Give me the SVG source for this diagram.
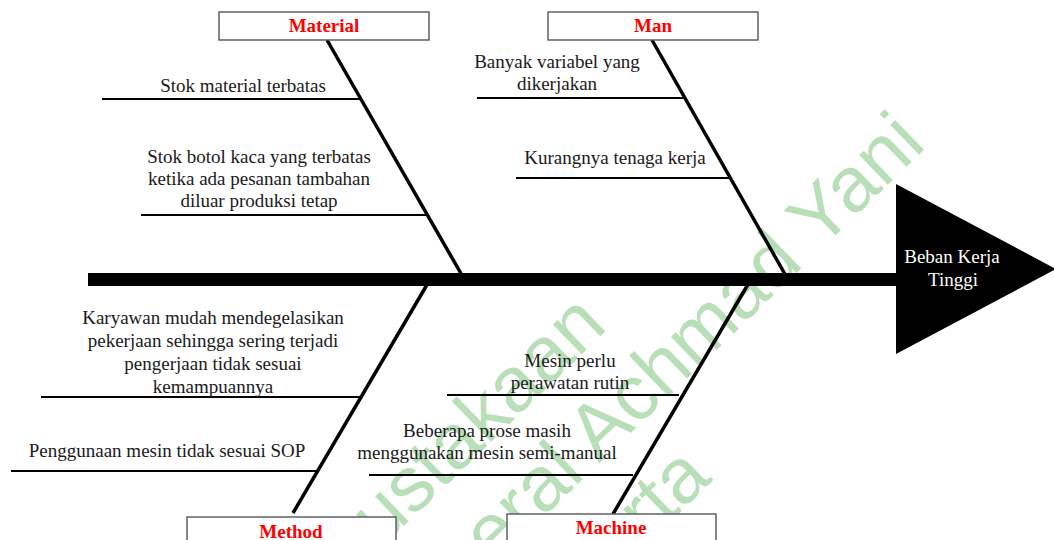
<svg xmlns="http://www.w3.org/2000/svg" width="1054" height="540" viewBox="0 0 1054 540">
<style>
.wm{font-family:"Liberation Sans",Arial,sans-serif;font-size:78px;fill:#b9dfb9}
.t{font-family:"Liberation Serif","Times New Roman",serif;font-size:19px;fill:#1a1a1a;text-anchor:middle}
.h{font-family:"Liberation Serif","Times New Roman",serif;font-size:19px;fill:#ffffff;text-anchor:middle}
.c{font-family:"Liberation Serif","Times New Roman",serif;font-size:19px;font-weight:bold;fill:#ff0000;text-anchor:middle}
.box{fill:#ffffff;stroke:#555555;stroke-width:1.4}
.bone{stroke:#000000;stroke-width:3.5;fill:none;stroke-linecap:butt}
.sub{stroke:#000000;stroke-width:2.2;fill:none}
</style>
<rect width="1054" height="540" fill="#ffffff"/>
<g id="watermark">
<text class="wm" transform="translate(350,578) rotate(-44)">pustakaan</text>
<text class="wm" transform="translate(493,566) rotate(-44)">eral Achmad Yani</text>
<text class="wm" transform="translate(648,543) rotate(-44)">rta</text>
</g>
<g id="connectors">
<rect x="88" y="273" width="812" height="13" fill="#000000"/>
<line class="bone" x1="327" y1="40" x2="463" y2="277"/>
<line class="bone" x1="652" y1="40" x2="786" y2="276"/>
<line class="bone" x1="428" y1="283" x2="293" y2="513"/>
<line class="bone" x1="750" y1="281" x2="613" y2="514"/>
</g>
<g id="effect">
<polygon points="896,184 1056,269 896,354" fill="#000000"/>
<text class="h" x="952" y="263">Beban Kerja</text>
<text class="h" x="953" y="286">Tinggi</text>
</g>
<g id="material">
<rect class="box" x="219" y="12" width="210" height="28"/>
<text class="c" x="324" y="32">Material</text>
</g>
<g id="man">
<rect class="box" x="548" y="12" width="210" height="28"/>
<text class="c" x="653" y="32">Man</text>
</g>
<g id="method">
<rect class="box" x="187" y="517" width="209" height="30"/>
<text class="c" x="291" y="538">Method</text>
</g>
<g id="machine">
<rect class="box" x="507" y="514" width="209" height="30"/>
<text class="c" x="611" y="534">Machine</text>
</g>
<g id="material-cause-1">
<line class="sub" x1="102" y1="99" x2="360" y2="99"/>
<text class="t" x="243" y="92">Stok material terbatas</text>
</g>
<g id="material-cause-2">
<line class="sub" x1="141" y1="215" x2="427" y2="215"/>
<text class="t" x="259" y="163">Stok botol kaca yang terbatas</text>
<text class="t" x="259" y="185">ketika ada pesanan tambahan</text>
<text class="t" x="259" y="207">diluar produksi tetap</text>
</g>
<g id="man-cause-1">
<line class="sub" x1="477" y1="98" x2="684" y2="98"/>
<text class="t" x="557" y="68">Banyak variabel yang</text>
<text class="t" x="557" y="90">dikerjakan</text>
</g>
<g id="man-cause-2">
<line class="sub" x1="516" y1="178" x2="730" y2="178"/>
<text class="t" x="615" y="164">Kurangnya tenaga kerja</text>
</g>
<g id="method-cause-1">
<line class="sub" x1="41" y1="397" x2="361" y2="397"/>
<text class="t" x="213" y="324">Karyawan mudah mendegelasikan</text>
<text class="t" x="213" y="347">pekerjaan sehingga sering terjadi</text>
<text class="t" x="213" y="370">pengerjaan tidak sesuai</text>
<text class="t" x="213" y="393">kemampuannya</text>
</g>
<g id="method-cause-2">
<line class="sub" x1="11" y1="471" x2="317" y2="471"/>
<text class="t" x="167" y="457">Penggunaan mesin tidak sesuai SOP</text>
</g>
<g id="machine-cause-1">
<line class="sub" x1="447" y1="395" x2="679" y2="395"/>
<text class="t" x="570" y="367">Mesin perlu</text>
<text class="t" x="570" y="389">perawatan rutin</text>
</g>
<g id="machine-cause-2">
<line class="sub" x1="369" y1="475" x2="633" y2="475"/>
<text class="t" x="487" y="437">Beberapa prose masih</text>
<text class="t" x="487" y="459">menggunakan mesin semi-manual</text>
</g>
</svg>
